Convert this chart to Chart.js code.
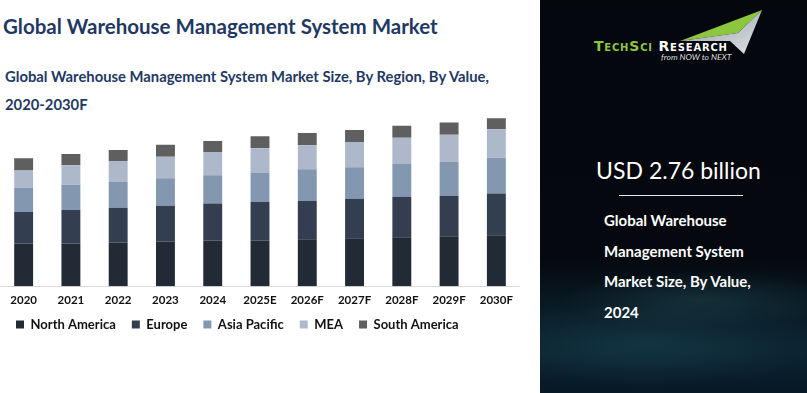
<!DOCTYPE html>
<html>
<head>
<meta charset="utf-8">
<script src="https://cdn.jsdelivr.net/npm/chart.js@4.4.1/dist/chart.umd.min.js"></script>
<style>
  html, body { margin: 0; padding: 0; }
  body { width: 807px; height: 393px; position: relative; overflow: hidden; background: #fff; font-family: Lato, 'Open Sans', sans-serif; }
  .title { position: absolute; left: 3px; top: 14px; font-size: 20.5px; font-weight: 700; color: #1f3864; white-space: nowrap; }
  .subtitle { position: absolute; left: 5px; top: 62px; font-size: 14.8px; font-weight: 700; color: #1f3864; line-height: 28px; width: 520px; }
  #chartBox { position: absolute; left: 0; top: 102px; width: 520px; height: 251px; }
  .panel { position: absolute; left: 540px; top: 0; width: 267px; height: 393px;
    background:
      radial-gradient(ellipse 200px 40px at 60% 300px, rgba(40,90,100,0.35), rgba(0,0,0,0) 70%),
      radial-gradient(ellipse 260px 60px at 40% 345px, rgba(30,75,90,0.45), rgba(0,0,0,0) 70%),
      linear-gradient(to bottom, #04070c 0%, #05080e 65%, #0a1d27 80%, #0b2230 90%, #081825 100%); }
  .logo { position: absolute; left: 0; top: 0; }
  .brand { position: absolute; left: 54px; top: 38px; font-size: 14px; font-weight: 700; font-variant: small-caps; letter-spacing: 0.8px; font-family: 'DejaVu Sans', sans-serif; white-space: nowrap; }
  .brand .g { color: #8cc63e; }
  .brand .w { color: #fff; }
  .tag { position: absolute; left: 121px; top: 52px; font-size: 8.5px; font-style: italic; color: #ddd; white-space: nowrap; }
  .usd { position: absolute; left: 0; width: 277px; top: 156px; text-align: center; font-size: 23px; color: #fff; white-space: nowrap; }
  .rule { position: absolute; left: 79px; width: 124px; top: 195px; height: 1px; background: #e8e8e8; }
  .desc { position: absolute; left: 64px; top: 205px; font-size: 15px; font-weight: 700; color: #fff; line-height: 30.5px; width: 200px; }
</style>
</head>
<body>
<div class="title">Global Warehouse Management System Market</div>
<div class="subtitle">Global Warehouse Management System Market Size, By Region, By Value,<br>2020-2030F</div>
<div id="chartBox"><canvas id="wmsChart"></canvas></div>

<div class="panel">
  <svg class="logo" width="267" height="70">
    <defs>
      <linearGradient id="gr" x1="0" y1="0" x2="1" y2="1">
        <stop offset="0" stop-color="#8e979c"/>
        <stop offset="1" stop-color="#dfe4e6"/>
      </linearGradient>
    </defs>
    <polygon points="140,41 222,10 198,33" fill="#8cc63e"/>
    <polygon points="140,41 198,33 222,10 204,54 190,41" fill="url(#gr)"/>
  </svg>
  <div class="brand"><span class="g">TechSci</span> <span class="w">Research</span></div>
  <div class="tag">from NOW to NEXT</div>
  <div class="usd">USD 2.76 billion</div>
  <div class="rule"></div>
  <div class="desc">Global Warehouse<br>Management System<br>Market Size, By Value,<br>2024</div>
</div>

<script>
// USD billion
const years = ['2020', '2021', '2022', '2023', '2024', '2025E', '2026F', '2027F', '2028F', '2029F', '2030F'];
const northAmerica = [0.81, 0.81, 0.83, 0.85, 0.87, 0.87, 0.89, 0.91, 0.93, 0.95, 0.97];
const europe       = [0.60, 0.64, 0.66, 0.68, 0.70, 0.73, 0.73, 0.75, 0.77, 0.77, 0.79];
const asiaPacific  = [0.46, 0.48, 0.50, 0.52, 0.54, 0.56, 0.60, 0.60, 0.62, 0.64, 0.68];
const mea          = [0.33, 0.37, 0.39, 0.41, 0.44, 0.46, 0.46, 0.48, 0.50, 0.52, 0.54];
const southAmerica = [0.23, 0.21, 0.21, 0.23, 0.21, 0.23, 0.23, 0.23, 0.23, 0.23, 0.21];

const regions = ['North America', 'Europe', 'Asia Pacific', 'MEA', 'South America'];
const seriesColors = ['#222a35', '#333f50', '#8497b0', '#adb9ca', '#5f5f5f'];
const series = [northAmerica, europe, asiaPacific, mea, southAmerica];

// pull the legend row a bit closer to the axis labels
const legendLift = {
    id: 'legendLift',
    afterLayout(chart) {
        if (chart.legend) { chart.legend.top -= 12; chart.legend.bottom -= 12; }
    }
};

new Chart(document.getElementById('wmsChart'), {
    type: 'bar',
    data: {
        labels: years,
        datasets: series.map((vals, i) => ({
            label: regions[i],
            data: vals,
            backgroundColor: seriesColors[i],
            borderWidth: 0,
            categoryPercentage: 1,
            barPercentage: 0.4
        }))
    },
    options: {
        responsive: true,
        maintainAspectRatio: false,
        animation: false,
        layout: { padding: 0 },
        plugins: {
            tooltip: { enabled: false },
            legend: {
                position: 'bottom',
                align: 'start',
                labels: {
                    boxWidth: 8, boxHeight: 8, padding: 16,
                    color: '#111',
                    font: { family: 'Lato', size: 13, weight: 'bold' }
                }
            }
        },
        scales: {
            x: {
                stacked: true,
                grid: { display: false, drawTicks: false },
                border: { color: '#d9d9d9', width: 1 },
                ticks: { color: '#111', padding: 7, font: { family: 'Lato', size: 11.5, weight: 'bold' } }
            },
            y: { stacked: true, display: false, min: 0, max: 3.5 }
        }
    },
    plugins: [legendLift]
});
</script>
</body>
</html>
